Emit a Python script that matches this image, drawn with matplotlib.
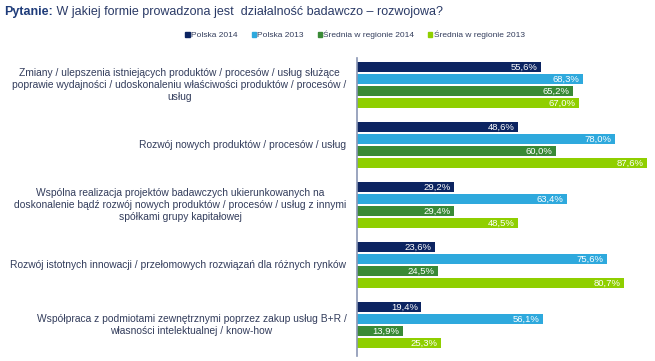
import matplotlib
matplotlib.use("Agg")
import matplotlib.pyplot as plt
from matplotlib.patches import Patch

plt.rcParams['font.family'] = ['Liberation Sans', 'DejaVu Sans']

categories = [
    "Zmiany / ulepszenia istniejących produktów / procesów / usług służące\n"
    "poprawie wydajności / udoskonaleniu właściwości produktów / procesów /\nusług",
    "Rozwój nowych produktów / procesów / usług",
    "Wspólna realizacja projektów badawczych ukierunkowanych na\n"
    "doskonalenie bądź rozwój nowych produktów / procesów / usług z innymi\n"
    "spółkami grupy kapitałowej",
    "Rozwój istotnych innowacji / przełomowych rozwiązań dla różnych rynków",
    "Współpraca z podmiotami zewnętrznymi poprzez zakup usług B+R /\n"
    "własności intelektualnej / know-how",
]
series_names = ["Polska 2014", "Polska 2013", "Średnia w regionie 2014", "Średnia w regionie 2013"]
polska_2014 = [55.6, 48.6, 29.2, 23.6, 19.4]
polska_2013 = [68.3, 78.0, 63.4, 75.6, 56.1]
srednia_2014 = [65.2, 60.0, 29.4, 24.5, 13.9]
srednia_2013 = [67.0, 87.6, 48.5, 80.7, 25.3]
series = [polska_2014, polska_2013, srednia_2014, srednia_2013]
colors = ["#0c2461", "#2ea9dd", "#3a8a36", "#8fcf00"]

W, H = 655, 361
fig = plt.figure(figsize=(W / 100, H / 100), dpi=100)
ax = fig.add_axes([357 / W, 1 - 356 / H, (W - 357) / W, (356 - 58) / H])

for j, vals in enumerate(series):
    pos = [i * 5 + j for i in range(len(vals))]
    ax.barh(pos, vals, height=0.78, color=colors[j])
    for p, v in zip(pos, vals):
        ax.text(v - 1.0, p + 0.05, f"{v:.1f}%".replace(".", ","), color="white",
                ha="right", va="center", fontsize=6.8)

for i, cat in enumerate(categories):
    ax.text(-3.2, i * 5 + 1.5, cat, ha="right", va="center", multialignment="center",
            fontsize=7.4, color="#333d5c", linespacing=1.25)

ax.set_xlim(0, (W - 357) / 3.31)
ax.set_ylim(24.08, -0.75)
for s in ["top", "right", "bottom"]:
    ax.spines[s].set_visible(False)
ax.spines["left"].set_color("#8a96b4")
ax.spines["left"].set_linewidth(1.2)
ax.set_xticks([])
ax.set_yticks([])

t1 = fig.text(4 / W, 1 - 12 / H, "Pytanie:", fontsize=9.0, fontweight="bold",
              color="#1f3c7a", va="center")
ax.annotate(" W jakiej formie prowadzona jest  działalność badawczo – rozwojowa?",
            xy=(1, 0.5), xycoords=t1, va="center", ha="left", fontsize=9.0,
            color="#2a3a66", annotation_clip=False)

handles = [Patch(color=c) for c in colors]
fig.legend(handles, series_names, loc="center", bbox_to_anchor=(355 / W, 1 - 35 / H),
           ncol=4, frameon=False, fontsize=6.0, handlelength=0.5, handleheight=0.5,
           handletextpad=0.15, columnspacing=1.7, labelcolor="#333d5c")

fig.savefig("out.png", dpi=100)
